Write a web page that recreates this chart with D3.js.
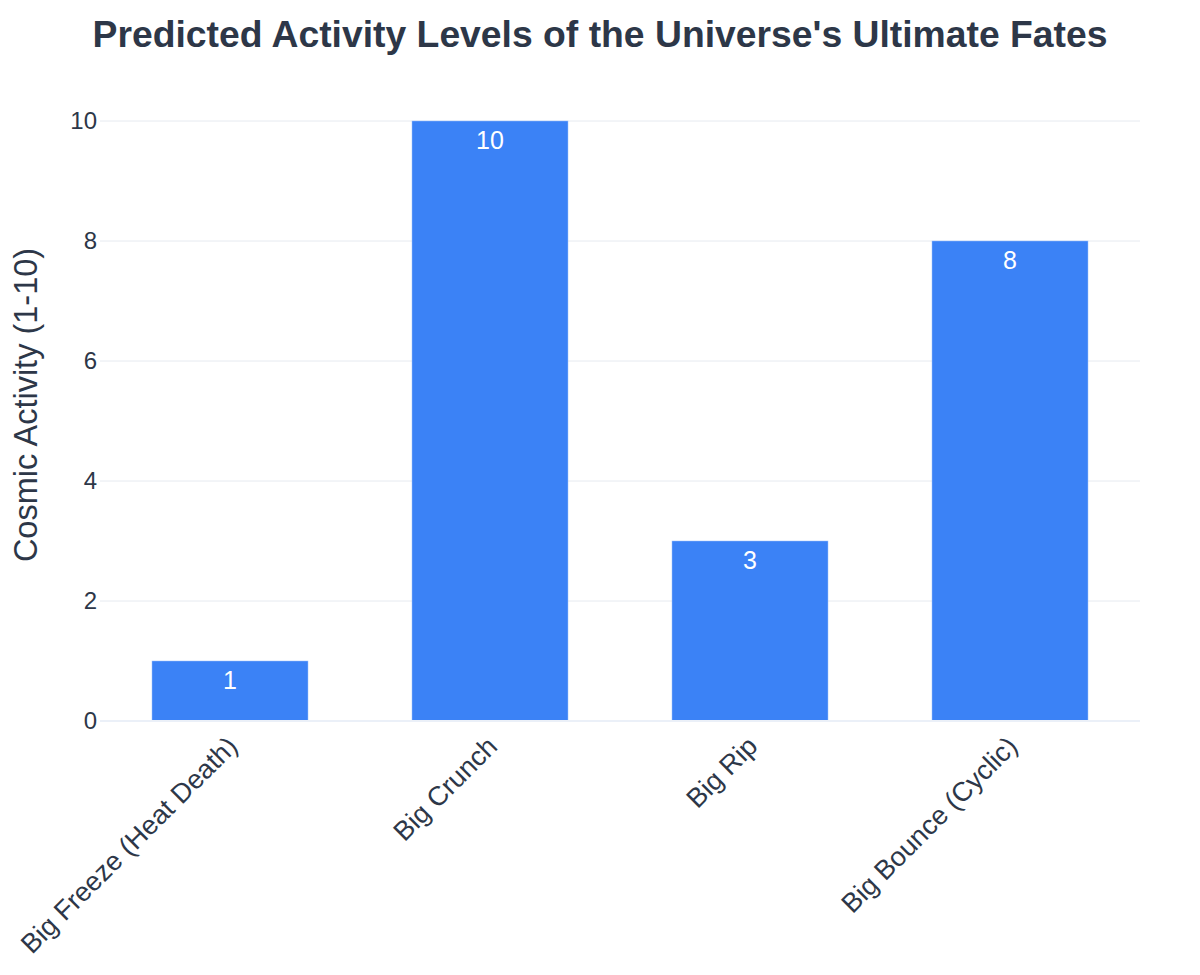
<!DOCTYPE html>
<html>
<head>
<meta charset="utf-8">
<script src="https://cdn.jsdelivr.net/npm/d3@7"></script>
<style>
  body { margin: 0; background: #fff; }
  svg { font-family: "Liberation Sans", Arial, sans-serif; }
</style>
</head>
<body>
<svg width="1200" height="975"></svg>
<script>
const fates = ["Big Freeze (Heat Death)", "Big Crunch", "Big Rip", "Big Bounce (Cyclic)"];
const activity = [1, 10, 3, 8];
const yTicks = [0, 2, 4, 6, 8, 10];

const svg = d3.select("svg");
const margin = {top: 121, right: 60, bottom: 254, left: 100};
const width = 1200 - margin.left - margin.right;
const height = 975 - margin.top - margin.bottom;
const textColor = "#2d3748";
const fontFamily = "Liberation Sans, Arial, sans-serif";

const x = d3.scaleBand().domain(fates).range([0, width])
    .paddingInner(0.4).paddingOuter(0.2);
const y = d3.scaleLinear().domain([0, 10]).range([height, 0]);

const g = svg.append("g").attr("transform", `translate(${margin.left},${margin.top})`);

// gridlines
g.append("g")
    .selectAll("line")
    .data(yTicks.filter(d => d !== 0))
    .join("line")
    .attr("x1", 0).attr("x2", width)
    .attr("y1", d => y(d)).attr("y2", d => y(d))
    .attr("stroke", "#e6eaf0")
    .attr("stroke-width", 1);

// bars
g.append("g")
    .selectAll("rect")
    .data(fates)
    .join("rect")
    .attr("x", d => x(d))
    .attr("y", (d, i) => y(activity[i]))
    .attr("width", x.bandwidth())
    .attr("height", (d, i) => y(0) - y(activity[i]))
    .attr("fill", "#3b82f6")
    .attr("stroke", "#9cc0fa")
    .attr("stroke-width", 0.5);

// zero line
g.append("line")
    .attr("x1", 0).attr("x2", width)
    .attr("y1", y(0)).attr("y2", y(0))
    .attr("stroke", "#ebf0f8")
    .attr("stroke-width", 2);

// value labels
g.append("g")
    .selectAll("text")
    .data(fates)
    .join("text")
    .attr("x", d => x(d) + x.bandwidth() / 2)
    .attr("y", (d, i) => y(activity[i]) + 28)
    .attr("text-anchor", "middle")
    .attr("fill", "#fff")
    .style("font-size", "25px")
    .text((d, i) => activity[i]);

// y axis
const yAxis = g.append("g")
    .call(d3.axisLeft(y).tickValues(yTicks).tickSize(0).tickPadding(3))
    .call(a => a.select(".domain").remove());
yAxis.selectAll("text")
    .attr("fill", textColor)
    .style("font-size", "24px")
    .style("font-family", fontFamily);

// x axis
const xAxis = g.append("g")
    .attr("transform", `translate(0,${height})`)
    .call(d3.axisBottom(x).tickSize(0).tickPadding(0))
    .call(a => a.select(".domain").remove());
xAxis.selectAll("text")
    .attr("fill", textColor)
    .style("font-size", "27px")
    .style("font-family", fontFamily)
    .attr("text-anchor", "end")
    .attr("y", 0)
    .attr("dy", 0)
    .attr("transform", "translate(9,27) rotate(-45)");

// y axis title
svg.append("text")
    .attr("transform", "translate(37,405) rotate(-90)")
    .attr("text-anchor", "middle")
    .attr("fill", textColor)
    .style("font-size", "32.5px")
    .text("Cosmic Activity (1-10)");

// title
svg.append("text")
    .attr("x", 600)
    .attr("y", 47)
    .attr("text-anchor", "middle")
    .attr("fill", textColor)
    .style("font-size", "37.3px")
    .style("font-weight", "bold")
    .text("Predicted Activity Levels of the Universe's Ultimate Fates");
</script>
</body>
</html>
